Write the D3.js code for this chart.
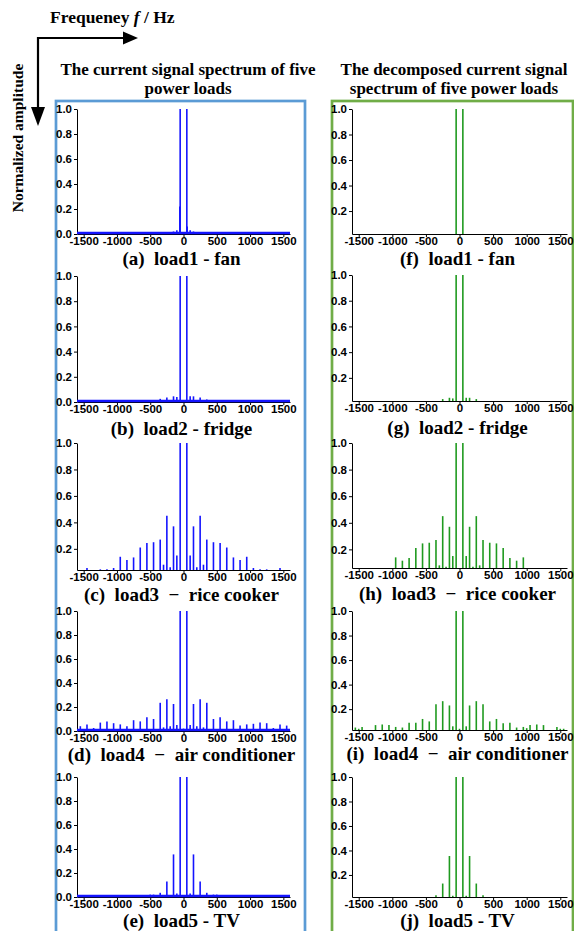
<!DOCTYPE html>
<html>
<head>
<meta charset="utf-8">
<script src="https://cdn.jsdelivr.net/npm/d3@7"></script>
<style>
  body { margin: 0; background: #fff; }
  svg { display: block; }
  .serif { font-family: "Liberation Serif", "Times New Roman", serif; font-weight: bold; fill: #000; white-space: pre; }
  .axis path, .axis line { stroke: #000; stroke-width: 1; }
</style>
</head>
<body>
<svg id="chart"></svg>
<script>
// shared axis values
const freqDomain = [-1600, 1600];
const freqTicks = [-1500, -1000, -500, 0, 500, 1000, 1500];
const ampTicksZero = [0, 0.2, 0.4, 0.6, 0.8, 1.0];
const ampTicks = [0.2, 0.4, 0.6, 0.8, 1.0];

// (a) load1 - fan, current spectrum
const fanFreq = [-250, -150, -100, -55, -50, 50, 55, 100, 150, 250];
const fanAmp  = [0.01, 0.02, 0.03, 0.22, 1.0, 1.0, 0.06, 0.03, 0.02, 0.01];
// (f) load1 - fan, decomposed
const fanDecFreq = [-50, 50];
const fanDecAmp  = [1.0, 1.0];

// (b) load2 - fridge
const fridgeFreq = [-450, -350, -250, -150, -100, -50, 50, 100, 150, 250, 350, 450];
const fridgeAmp  = [0.015, 0.025, 0.035, 0.045, 0.04, 1.0, 1.0, 0.045, 0.045, 0.035, 0.02, 0.015];
// (g)
const fridgeDecFreq = [-250, -150, -100, -50, 50, 100, 150, 250];
const fridgeDecAmp  = [0.035, 0.045, 0.04, 1.0, 1.0, 0.045, 0.045, 0.035];

// (c) load3 - rice cooker
const riceFreq = [-1450, -1250, -1150, -1050, -950, -850, -750, -650, -550, -450, -350, -300, -250, -200, -150, -100, -50,
                  50, 100, 150, 200, 250, 300, 350, 450, 550, 650, 750, 850, 950, 1050, 1150, 1250, 1450];
const riceAmp  = [0.055, 0.045, 0.045, 0.055, 0.14, 0.115, 0.135, 0.21, 0.245, 0.25, 0.27, 0.08, 0.45, 0.06, 0.37, 0.15, 1.0,
                  1.0, 0.15, 0.37, 0.06, 0.45, 0.08, 0.27, 0.25, 0.245, 0.21, 0.135, 0.115, 0.14, 0.055, 0.045, 0.045, 0.055];
// (h)
const riceDecFreq = [-950, -850, -750, -650, -550, -450, -350, -300, -250, -200, -150, -100, -50,
                     50, 100, 150, 200, 250, 300, 350, 450, 550, 650, 750, 850, 950];
const riceDecAmp  = [0.14, 0.115, 0.135, 0.21, 0.245, 0.25, 0.27, 0.08, 0.45, 0.07, 0.37, 0.15, 1.0,
                     1.0, 0.15, 0.37, 0.07, 0.45, 0.08, 0.27, 0.25, 0.245, 0.21, 0.135, 0.115, 0.14];

// (d) load4 - air conditioner
const airFreq = [-1550, -1450, -1350, -1250, -1150, -1050, -950, -850, -750, -650, -550, -450, -350, -300, -250, -200, -150, -100, -50, 0,
                 50, 100, 150, 200, 250, 300, 350, 450, 550, 650, 750, 850, 950, 1050, 1150, 1250, 1350, 1450, 1550];
const airAmp  = [0.04, 0.055, 0.025, 0.07, 0.08, 0.065, 0.055, 0.04, 0.09, 0.08, 0.115, 0.10, 0.235, 0.03, 0.265, 0.04, 0.225, 0.05, 1.0, 0.02,
                 1.0, 0.05, 0.225, 0.04, 0.265, 0.03, 0.235, 0.10, 0.115, 0.08, 0.09, 0.045, 0.055, 0.06, 0.07, 0.065, 0.025, 0.055, 0.045];
// (i)
const airDecFreq = [-1550, -1500, -1450, -1350, -1250, -1150, -1050, -950, -850, -750, -650, -550, -450, -350, -250, -200, -150, -100, -50, 0,
                    50, 100, 150, 250, 350, 450, 550, 650, 750, 850, 950, 1000, 1050, 1150, 1250, 1350, 1450, 1500, 1550];
const airDecAmp  = [0.05, 0.04, 0.055, 0.03, 0.07, 0.075, 0.07, 0.055, 0.05, 0.09, 0.09, 0.12, 0.10, 0.24, 0.265, 0.03, 0.23, 0.06, 1.0, 0.04,
                    1.0, 0.06, 0.23, 0.265, 0.24, 0.10, 0.12, 0.085, 0.09, 0.05, 0.055, 0.045, 0.07, 0.075, 0.07, 0.03, 0.055, 0.04, 0.04];

// (e) load5 - TV
const tvFreq = [-500, -450, -350, -250, -150, -100, -50, 50, 100, 150, 250, 350, 450, 500];
const tvAmp  = [0.02, 0.02, 0.035, 0.13, 0.355, 0.03, 1.0, 1.0, 0.03, 0.355, 0.13, 0.035, 0.02, 0.02];
// (j)
const tvDecFreq = [-350, -250, -150, -100, -50, 50, 100, 150, 250, 350];
const tvDecAmp  = [0.035, 0.13, 0.355, 0.03, 1.0, 1.0, 0.03, 0.355, 0.13, 0.035];

const captions = ['(a)  load1 - fan', '(b)  load2 - fridge', '(c)  load3  \u2212  rice cooker',
                  '(d)  load4  \u2212  air conditioner', '(e)  load5 - TV',
                  '(f)  load1 - fan', '(g)  load2 - fridge', '(h)  load3  \u2212  rice cooker',
                  '(i)  load4  \u2212  air conditioner', '(j)  load5 - TV'];

const zip = (f, a) => f.map((d, i) => ({freq: d, amp: a[i]}));

class SpectrumPlot {
    constructor(_config, _data) {
        this.config = {
            parentElement: _config.parentElement,
            left: _config.left,
            right: _config.right,
            top: _config.top,
            bottom: _config.bottom,
            yMin: _config.yMin || 0,
            color: _config.color,
            baseline: _config.baseline || false,
            caption: _config.caption,
            captionY: _config.captionY
        }
        this.data = _data;
        this.initVis();
    }

    initVis() {
        let vis = this;
        vis.chart = vis.config.parentElement.append('g');

        vis.xScale = d3.scaleLinear()
            .domain(freqDomain)
            .range([vis.config.left, vis.config.right]);
        vis.yScale = d3.scaleLinear()
            .domain([vis.config.yMin, 1])
            .range([vis.config.bottom, vis.config.top]);

        vis.xAxis = d3.axisBottom(vis.xScale)
            .tickValues(freqTicks)
            .tickSize(3).tickSizeOuter(0).tickPadding(0)
            .tickFormat(d => String(d));
        vis.yAxis = d3.axisLeft(vis.yScale)
            .tickValues(vis.config.yMin === 0 ? ampTicksZero : ampTicks)
            .tickSize(3).tickSizeOuter(0).tickPadding(2)
            .tickFormat(d3.format('.1f'));

        vis.renderVis();
    }

    renderVis() {
        let vis = this;

        vis.chart.append('g')
            .attr('class', 'axis')
            .attr('transform', `translate(0,${vis.config.bottom})`)
            .call(vis.xAxis);
        vis.chart.append('g')
            .attr('class', 'axis')
            .attr('transform', `translate(${vis.config.left},0)`)
            .call(vis.yAxis);

        // tick labels: bold Arial look
        vis.chart.selectAll('.axis text')
            .style('font-family', '"Liberation Sans", Arial, sans-serif')
            .style('font-weight', 'bold')
            .style('font-size', '11.5px')
            .attr('fill', '#000');

        // spectral lines
        vis.chart.selectAll('.stem')
            .data(vis.data.filter(d => d.amp > vis.config.yMin))
            .enter()
            .append('line')
                .attr('class', 'stem')
                .attr('x1', d => vis.xScale(d.freq))
                .attr('x2', d => vis.xScale(d.freq))
                .attr('y1', vis.yScale(vis.config.yMin))
                .attr('y2', d => vis.yScale(d.amp))
                .attr('stroke', vis.config.color)
                .attr('stroke-width', 1.6);

        // noise floor of the raw spectrum
        if (vis.config.baseline) {
            vis.chart.append('line')
                .attr('x1', vis.xScale(freqDomain[0]))
                .attr('x2', vis.xScale(freqDomain[1]))
                .attr('y1', vis.yScale(0) - 1)
                .attr('y2', vis.yScale(0) - 1)
                .attr('stroke', vis.config.color)
                .attr('stroke-width', 2.5);
        }

        vis.chart.append('text')
            .attr('class', 'serif')
            .attr('x', (vis.config.left + vis.config.right) / 2 - 2)
            .attr('y', vis.config.captionY)
            .attr('text-anchor', 'middle')
            .attr('font-size', 19)
            .text(vis.config.caption);
    }
}

const svg = d3.select('#chart').attr('width', 574).attr('height', 931);

// frames round the two columns
svg.append('rect').attr('x', 56).attr('y', 101).attr('width', 249).attr('height', 860)
    .attr('fill', 'none').attr('stroke', '#5B9BD5').attr('stroke-width', 2.7);
svg.append('rect').attr('x', 332).attr('y', 101).attr('width', 241).attr('height', 860)
    .attr('fill', 'none').attr('stroke', '#70AD47').attr('stroke-width', 2.7);

// direction arrows
svg.append('path').attr('d', 'M38,110 V38 H125').attr('fill', 'none').attr('stroke', '#000').attr('stroke-width', 2.2);
svg.append('path').attr('d', 'M123,31.5 L138,38 L123,44.5 Z').attr('fill', '#000');
svg.append('path').attr('d', 'M31,107 L38,126 L45,107 Z').attr('fill', '#000');

const freqLabel = svg.append('text').attr('class', 'serif').attr('x', 50).attr('y', 23).attr('font-size', 17.5);
freqLabel.append('tspan').text('Frequeney ');
freqLabel.append('tspan').attr('font-style', 'italic').text('f');
freqLabel.append('tspan').text(' / Hz');

svg.append('text').attr('class', 'serif')
    .attr('transform', 'translate(23,138) rotate(-90)')
    .attr('text-anchor', 'middle').attr('font-size', 15.5)
    .text('Normalized amplitude');

const titles = [
    {x: 188, lines: ['The current signal spectrum of five', 'power loads']},
    {x: 454, lines: ['The decomposed current signal', 'spectrum of five power loads']}
];
titles.forEach(t => {
    t.lines.forEach((l, i) => {
        svg.append('text').attr('class', 'serif')
            .attr('x', t.x).attr('y', 75 + i * 19)
            .attr('text-anchor', 'middle').attr('font-size', 17)
            .text(l);
    });
});

// panel layout: [top (1.0), axis y, y minimum, caption baseline]
const leftRows  = [[109, 234, 0, 265], [276, 402, 0, 434.5], [443, 570, 0.04, 600.5], [611, 731, 0, 761], [777, 897, 0, 926.5]];
const rightRows = [[109, 234, 0.02, 264.5], [275, 401, 0.02, 434], [443, 568, 0.06, 600], [611, 730, 0.03, 760], [777, 897, 0.02, 927]];
const rawData = [zip(fanFreq, fanAmp), zip(fridgeFreq, fridgeAmp), zip(riceFreq, riceAmp), zip(airFreq, airAmp), zip(tvFreq, tvAmp)];
const decData = [zip(fanDecFreq, fanDecAmp), zip(fridgeDecFreq, fridgeDecAmp), zip(riceDecFreq, riceDecAmp), zip(airDecFreq, airDecAmp), zip(tvDecFreq, tvDecAmp)];

leftRows.forEach((r, i) => {
    new SpectrumPlot({
        parentElement: svg, left: 77, right: 290, top: r[0], bottom: r[1], yMin: r[2],
        color: '#1414ff', baseline: r[2] === 0, caption: captions[i], captionY: r[3]
    }, rawData[i]);
});
rightRows.forEach((r, i) => {
    new SpectrumPlot({
        parentElement: svg, left: 352, right: 567, top: r[0], bottom: r[1], yMin: r[2],
        color: '#1f9a1f', caption: captions[i + 5], captionY: r[3]
    }, decData[i]);
});
</script>
</body>
</html>
